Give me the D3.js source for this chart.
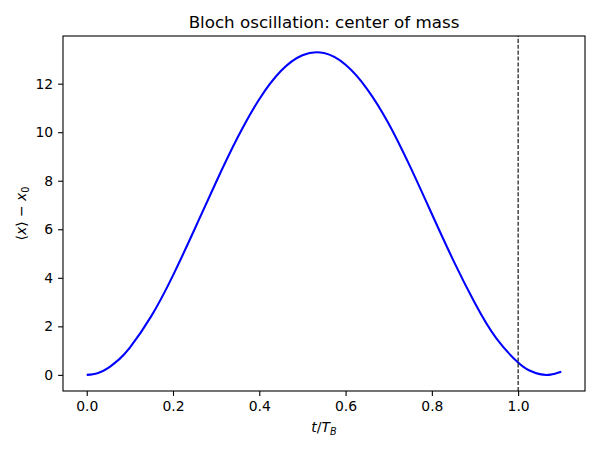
<!DOCTYPE html>
<html>
<head>
<meta charset="utf-8">
<script src="https://cdn.jsdelivr.net/npm/d3@7"></script>
<style>
  body { margin: 0; background: #fff; }
  text { font-family: "DejaVu Sans", sans-serif; fill: #000; }
  .tick text { font-size: 13.9px; }
  .domain { display: none; }
</style>
</head>
<body>
<div id="plot"></div>
<script>
// time in units of the Bloch period
var times = [0, 0.025, 0.05, 0.075, 0.10, 0.15, 0.20, 0.25, 0.30, 0.35, 0.40, 0.45, 0.50, 0.55,
             0.60, 0.65, 0.70, 0.75, 0.80, 0.85, 0.90, 0.95, 1.00, 1.025, 1.05, 1.075, 1.10];
// <x> - x0
var com = [0, 0.07, 0.29, 0.64, 1.12, 2.43, 4.10, 6.00, 7.95, 9.79, 11.36, 12.52, 13.17, 13.26,
           12.78, 11.78, 10.35, 8.57, 6.63, 4.71, 2.95, 1.49, 0.51, 0.19, 0.03, 0.01, 0.13];
var xTicks = [0, 0.2, 0.4, 0.6, 0.8, 1.0];
var yTicks = [0, 2, 4, 6, 8, 10, 12];
var markT = 1.0;

var W = 600, H = 450;
var margin = {top: 36, left: 63, right: 15, bottom: 59};

var svg = d3.select('#plot').append('svg')
    .attr('width', W)
    .attr('height', H);

var x = d3.scaleLinear().domain([-0.055, 1.155]).range([margin.left, W - margin.right]);
var y = d3.scaleLinear().domain([-0.665, 13.965]).range([H - margin.bottom, margin.top]);

var pts = times.map(function(t, i) { return [t, com[i]]; });

// curve
var line = d3.line()
    .x(function(d) { return x(d[0]); })
    .y(function(d) { return y(d[1]); })
    .curve(d3.curveNatural);

svg.append('path')
    .datum(pts)
    .attr('d', line)
    .attr('fill', 'none')
    .attr('stroke', '#0000ff')
    .attr('stroke-width', 2.08);

// dashed line at one period
svg.append('line')
    .attr('x1', x(markT)).attr('x2', x(markT))
    .attr('y1', y.range()[0]).attr('y2', y.range()[1])
    .attr('stroke', '#000')
    .attr('stroke-width', 1.1)
    .attr('stroke-dasharray', '4.1,1.8');

// axes
var xAxis = d3.axisBottom(x).tickValues(xTicks).tickSize(4.9).tickPadding(4.9)
    .tickFormat(d3.format('.1f'));
var yAxis = d3.axisLeft(y).tickValues(yTicks).tickSize(4.9).tickPadding(4.9)
    .tickFormat(d3.format('d'));

var gx = svg.append('g').attr('transform', 'translate(0,' + y.range()[0] + ')').call(xAxis);
var gy = svg.append('g').attr('transform', 'translate(' + margin.left + ',0)').call(yAxis);
[gx, gy].forEach(function(g) {
  g.selectAll('.tick line').attr('stroke', '#000').attr('stroke-width', 1.1);
  g.selectAll('.tick text').attr('fill', '#000');
});

// frame
svg.append('rect')
    .attr('x', x.range()[0]).attr('y', y.range()[1])
    .attr('width', x.range()[1] - x.range()[0])
    .attr('height', y.range()[0] - y.range()[1])
    .attr('fill', 'none')
    .attr('stroke', '#000')
    .attr('stroke-width', 1.1);

// title
svg.append('text')
    .attr('x', (x.range()[0] + x.range()[1]) / 2)
    .attr('y', 28)
    .attr('text-anchor', 'middle')
    .style('font-size', '16.7px')
    .text('Bloch oscillation: center of mass');

// x label  t/T_B
var xl = svg.append('text')
    .attr('x', (x.range()[0] + x.range()[1]) / 2)
    .attr('y', 432)
    .attr('text-anchor', 'middle')
    .style('font-size', '13.9px');
xl.append('tspan').style('font-style', 'italic').text('t');
xl.append('tspan').text('/');
xl.append('tspan').style('font-style', 'italic').text('T');
xl.append('tspan').style('font-style', 'italic').style('font-size', '9.7px').attr('dy', 3).text('B');

// y label  <x> - x0
var yl = svg.append('text')
    .attr('transform', 'translate(26,' + ((y.range()[0] + y.range()[1]) / 2) + ') rotate(-90)')
    .attr('text-anchor', 'middle')
    .style('font-size', '13.9px');
yl.append('tspan').text('\u27e8');
yl.append('tspan').style('font-style', 'italic').text('x');
yl.append('tspan').text('\u27e9 \u2212 ');
yl.append('tspan').style('font-style', 'italic').text('x');
yl.append('tspan').style('font-size', '9.7px').attr('dy', 3).text('0');
</script>
</body>
</html>
